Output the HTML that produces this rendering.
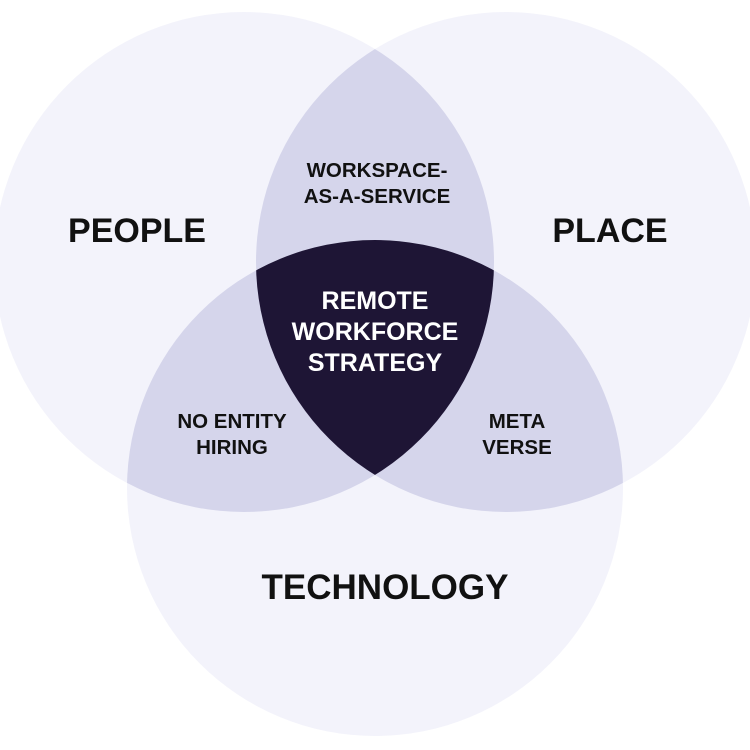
<!DOCTYPE html>
<html><head><meta charset="utf-8"><style>
html,body{margin:0;padding:0;background:#fff;}
svg{display:block;}
text{font-family:"Liberation Sans",sans-serif;font-weight:bold;text-anchor:middle;}
</style></head><body>
<svg width="750" height="750" viewBox="0 0 750 750">
<defs>
<clipPath id="cA"><circle cx="244" cy="262" r="250"/></clipPath>
<clipPath id="cB"><circle cx="506" cy="262" r="250"/></clipPath>
<clipPath id="cC"><circle cx="375" cy="488" r="248"/></clipPath>
</defs>
<circle cx="244" cy="262" r="250" fill="#f3f3fb"/>
<circle cx="506" cy="262" r="250" fill="#f3f3fb"/>
<circle cx="375" cy="488" r="248" fill="#f3f3fb"/>
<g clip-path="url(#cA)"><circle cx="506" cy="262" r="250" fill="#d5d5eb"/><circle cx="375" cy="488" r="248" fill="#d5d5eb"/></g>
<g clip-path="url(#cB)"><circle cx="375" cy="488" r="248" fill="#d5d5eb"/></g>
<g clip-path="url(#cA)"><g clip-path="url(#cB)"><circle cx="375" cy="488" r="248" fill="#1e1535"/></g></g>
<text x="137" y="242" font-size="34" fill="#111">PEOPLE</text>
<text x="610" y="242" font-size="34" fill="#111">PLACE</text>
<text x="385" y="599" font-size="35" fill="#111">TECHNOLOGY</text>
<text x="377" y="177" font-size="20.5" fill="#111">WORKSPACE-</text>
<text x="377" y="203" font-size="20.5" fill="#111">AS-A-SERVICE</text>
<text x="375" y="309" font-size="25" fill="#fff">REMOTE</text>
<text x="375" y="340" font-size="25" fill="#fff">WORKFORCE</text>
<text x="375" y="371" font-size="25" fill="#fff">STRATEGY</text>
<text x="232" y="428" font-size="20.5" fill="#111">NO ENTITY</text>
<text x="232" y="454" font-size="20.5" fill="#111">HIRING</text>
<text x="517" y="428" font-size="20.5" fill="#111">META</text>
<text x="517" y="454" font-size="20.5" fill="#111">VERSE</text>
</svg>
</body></html>
